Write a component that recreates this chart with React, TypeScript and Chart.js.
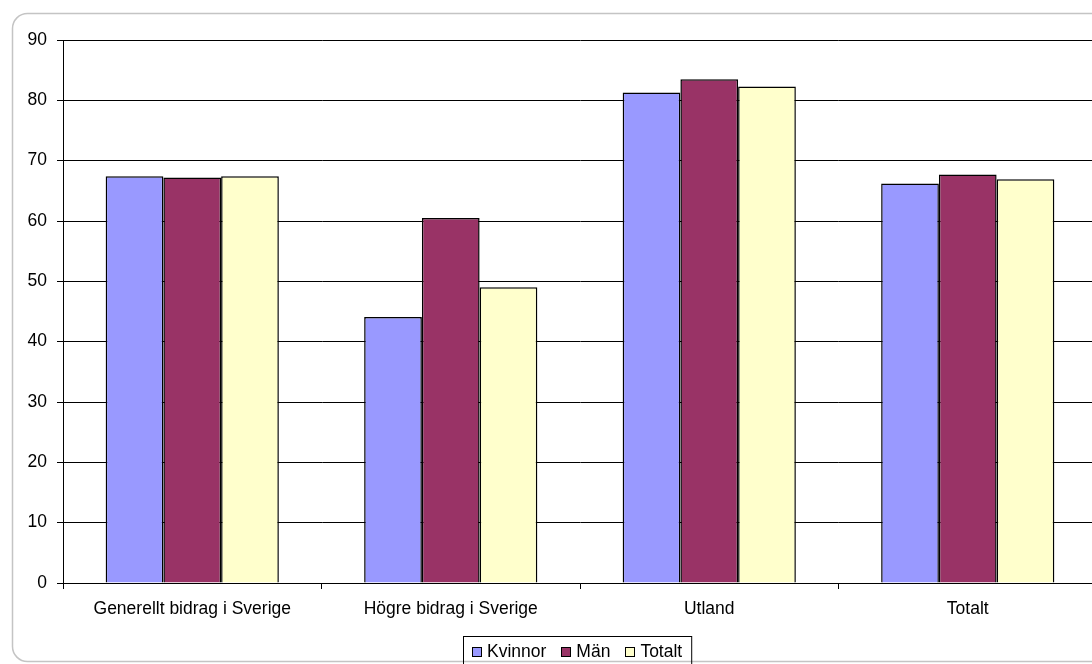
import { useEffect, useRef } from "react";
import { Chart, registerables } from "chart.js";

Chart.register(...registerables);

const categories = ["Generellt bidrag i Sverige", "Högre bidrag i Sverige", "Utland", "Totalt"];
const kvinnor = [67.4, 44.1, 81.3, 66.2];
const man = [67.2, 60.5, 83.5, 67.7];
const totalt = [67.4, 49.0, 82.3, 66.9];
const seriesNames = ["Kvinnor", "Män", "Totalt"];
const seriesColors = ["#9999FF", "#993366", "#FFFFCC"];
const yTicks = [0, 10, 20, 30, 40, 50, 60, 70, 80, 90];

const FONT = "'Liberation Sans', Arial, sans-serif";
const FONT_SIZE = 17.5;

const framePlugin = {
  id: "frame",
  beforeDraw(chart: any) {
    const ctx = chart.ctx;
    ctx.save();
    ctx.fillStyle = "#ffffff";
    ctx.fillRect(0, 0, chart.width, chart.height);
    ctx.strokeStyle = "#c4c4c4";
    ctx.lineWidth = 1.5;
    ctx.beginPath();
    ctx.roundRect(12.5, 13.5, chart.width + 40, 648, 15);
    ctx.stroke();
    ctx.restore();
  },
};

const legendPlugin = {
  id: "customLegend",
  afterDraw(chart: any) {
    const ctx = chart.ctx;
    ctx.save();
    ctx.font = `${FONT_SIZE}px ${FONT}`;
    ctx.textBaseline = "middle";
    const sq = 10;
    const gapSq = 5;
    const gapItem = 15;
    const pad = 8;
    const widths = seriesNames.map((n) => ctx.measureText(n).width);
    let total = pad * 2 + gapItem * (seriesNames.length - 1);
    widths.forEach((w) => (total += sq + gapSq + w));
    const cx = (chart.chartArea.left + chart.chartArea.right) / 2 - 2.5;
    const left = Math.round(cx - total / 2) - 0.5;
    const top = 636.5;
    ctx.strokeStyle = "#000";
    ctx.lineWidth = 1;
    ctx.strokeRect(left, top, total + 2, 32);
    const cy = 652;
    let x = left + pad + 0.5;
    seriesNames.forEach((n, i) => {
      ctx.fillStyle = seriesColors[i];
      ctx.fillRect(Math.round(x), cy - 5, sq, sq);
      ctx.strokeStyle = "#000";
      ctx.strokeRect(Math.round(x) + 0.5, cy - 4.5, sq - 1, sq - 1);
      x += sq + gapSq;
      ctx.fillStyle = "#000";
      ctx.fillText(n, x, cy + 0.5);
      x += widths[i] + gapItem;
    });
    ctx.restore();
  },
};

export default function App() {
  const ref = useRef<HTMLCanvasElement>(null);

  useEffect(() => {
    if (!ref.current) return;
    const chart = new Chart(ref.current, {
      type: "bar",
      data: {
        labels: categories,
        datasets: [kvinnor, man, totalt].map((d, i) => ({
          label: seriesNames[i],
          data: d,
          backgroundColor: seriesColors[i],
          borderColor: "#000",
          borderWidth: 1.5,
          categoryPercentage: 0.67,
          barPercentage: 1,
        })),
      },
      options: {
        animation: false,
        responsive: false,
        devicePixelRatio: 1,
        layout: { padding: { left: 0, right: 13, top: 40, bottom: 0 } },
        plugins: {
          legend: { display: false },
          tooltip: { enabled: false },
        },
        scales: {
          x: {
            grid: {
              display: true,
              drawOnChartArea: false,
              drawTicks: true,
              tickLength: 6,
              color: "#000",
              offset: true,
            },
            border: { display: true, color: "#000", width: 1 },
            ticks: {
              color: "#000",
              font: { family: FONT, size: FONT_SIZE },
              padding: 10,
              maxRotation: 0,
              autoSkip: false,
            },
            afterFit: (s: any) => {
              s.height = 81;
            },
          },
          y: {
            min: 0,
            max: 90,
            afterBuildTicks: (s: any) => {
              s.ticks = yTicks.map((v) => ({ value: v }));
            },
            grid: {
              color: "#000",
              lineWidth: 1,
              tickLength: 6,
              drawTicks: true,
            },
            border: { display: true, color: "#000", width: 1 },
            ticks: {
              color: "#000",
              font: { family: FONT, size: FONT_SIZE },
              padding: 10,
            },
            afterFit: (s: any) => {
              s.width = 63;
            },
          },
        },
      },
      plugins: [framePlugin, legendPlugin],
    });
    return () => chart.destroy();
  }, []);

  return (
    <div
      style={{
        position: "fixed",
        left: 0,
        top: 0,
        width: 1092,
        height: 664,
        overflow: "hidden",
        background: "#fff",
      }}
    >
      <canvas ref={ref} width={1110} height={664} style={{ width: 1110, height: 664, display: "block" }} />
    </div>
  );
}
